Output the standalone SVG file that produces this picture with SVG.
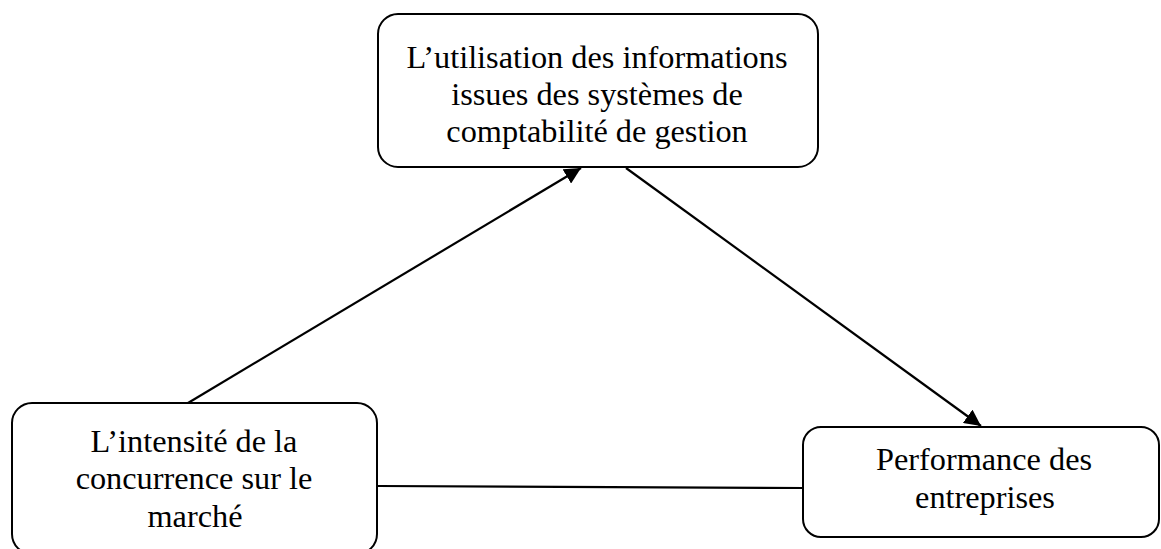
<svg xmlns="http://www.w3.org/2000/svg" width="1161" height="549" viewBox="0 0 1161 549">
  <style>
    .box { fill: #fff; stroke: #000; stroke-width: 2; }
    .lbl { font-family: "Liberation Serif", "Times New Roman", serif; font-size: 32.3px; fill: #000; text-anchor: middle; }
    .edge { stroke: #000; stroke-width: 2.2; fill: none; }
  </style>
  <defs>
    <marker id="arrow" viewBox="0 0 10 10" refX="10" refY="5" markerWidth="7.5" markerHeight="7.5" markerUnits="strokeWidth" orient="auto">
      <path d="M0,0 L10,5 L0,10 z" fill="#000"/>
    </marker>
  </defs>
  <rect width="1161" height="549" fill="#fff"/>

  <g id="connectors">
    <line class="edge" x1="188" y1="403" x2="581" y2="168" marker-end="url(#arrow)"/>
    <line class="edge" x1="626" y1="168" x2="981" y2="426" marker-end="url(#arrow)"/>
    <line class="edge" x1="378" y1="486" x2="803" y2="488"/>
  </g>

  <g id="node-utilisation">
    <rect class="box" x="378" y="14" width="440" height="153" rx="20" ry="20"/>
    <text class="lbl" x="597" y="68">L’utilisation des informations</text>
    <text class="lbl" x="597" y="105">issues des systèmes de</text>
    <text class="lbl" x="597" y="142">comptabilité de gestion</text>
  </g>

  <g id="node-intensite">
    <rect class="box" x="12" y="403" width="365" height="151" rx="20" ry="20"/>
    <text class="lbl" x="194" y="452">L’intensité de la</text>
    <text class="lbl" x="194" y="489">concurrence sur le</text>
    <text class="lbl" x="195" y="527">marché</text>
  </g>

  <g id="node-performance">
    <rect class="box" x="803" y="427" width="356" height="110" rx="18" ry="18"/>
    <text class="lbl" x="984" y="470">Performance des</text>
    <text class="lbl" x="985" y="508">entreprises</text>
  </g>
</svg>
